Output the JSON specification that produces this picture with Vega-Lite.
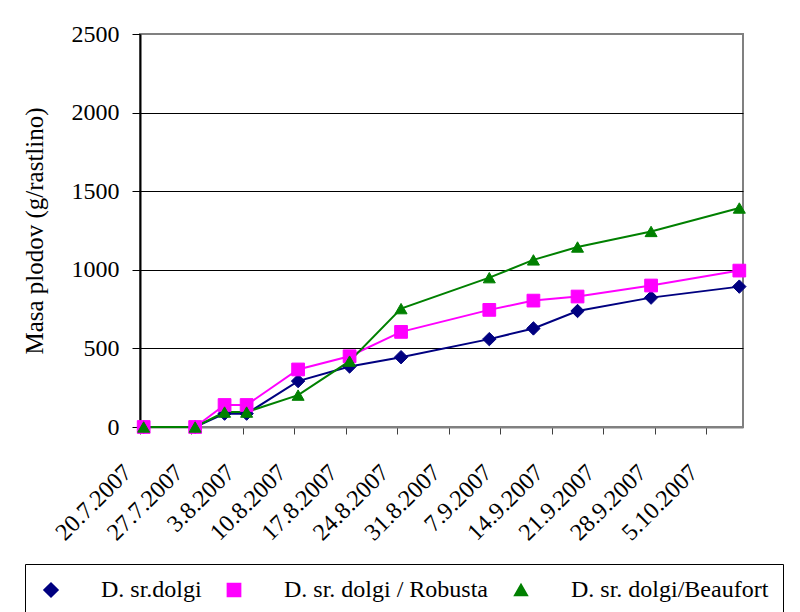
{
  "$schema": "https://vega.github.io/schema/vega-lite/v6.json",
  "autosize": {"type": "none"},
  "width": 603,
  "height": 393,
  "padding": {"left": 140, "top": 34, "right": 57, "bottom": 185},
  "background": "white",
  "config": {
    "font": "Liberation Serif",
    "view": {"stroke": "#808080", "strokeWidth": 2}
  },
  "data": {
    "values": [
      {"date": "2007-07-20T12:00:00", "series": "D. sr.dolgi", "value": 0},
      {"date": "2007-07-27T12:00:00", "series": "D. sr.dolgi", "value": 0},
      {"date": "2007-07-31T12:00:00", "series": "D. sr.dolgi", "value": 85},
      {"date": "2007-08-03T12:00:00", "series": "D. sr.dolgi", "value": 85},
      {"date": "2007-08-10T12:00:00", "series": "D. sr.dolgi", "value": 292},
      {"date": "2007-08-17T12:00:00", "series": "D. sr.dolgi", "value": 385},
      {"date": "2007-08-24T12:00:00", "series": "D. sr.dolgi", "value": 444},
      {"date": "2007-09-05T12:00:00", "series": "D. sr.dolgi", "value": 559},
      {"date": "2007-09-11T12:00:00", "series": "D. sr.dolgi", "value": 627},
      {"date": "2007-09-17T12:00:00", "series": "D. sr.dolgi", "value": 738},
      {"date": "2007-09-27T12:00:00", "series": "D. sr.dolgi", "value": 823},
      {"date": "2007-10-09T12:00:00", "series": "D. sr.dolgi", "value": 893},
      {"date": "2007-07-20T12:00:00", "series": "D. sr. dolgi / Robusta", "value": 0},
      {"date": "2007-07-27T12:00:00", "series": "D. sr. dolgi / Robusta", "value": 0},
      {"date": "2007-07-31T12:00:00", "series": "D. sr. dolgi / Robusta", "value": 140},
      {"date": "2007-08-03T12:00:00", "series": "D. sr. dolgi / Robusta", "value": 140},
      {"date": "2007-08-10T12:00:00", "series": "D. sr. dolgi / Robusta", "value": 366},
      {"date": "2007-08-17T12:00:00", "series": "D. sr. dolgi / Robusta", "value": 450},
      {"date": "2007-08-24T12:00:00", "series": "D. sr. dolgi / Robusta", "value": 605},
      {"date": "2007-09-05T12:00:00", "series": "D. sr. dolgi / Robusta", "value": 745},
      {"date": "2007-09-11T12:00:00", "series": "D. sr. dolgi / Robusta", "value": 804},
      {"date": "2007-09-17T12:00:00", "series": "D. sr. dolgi / Robusta", "value": 830},
      {"date": "2007-09-27T12:00:00", "series": "D. sr. dolgi / Robusta", "value": 900},
      {"date": "2007-10-09T12:00:00", "series": "D. sr. dolgi / Robusta", "value": 995},
      {"date": "2007-07-20T12:00:00", "series": "D. sr. dolgi/Beaufort", "value": 0},
      {"date": "2007-07-27T12:00:00", "series": "D. sr. dolgi/Beaufort", "value": 0},
      {"date": "2007-07-31T12:00:00", "series": "D. sr. dolgi/Beaufort", "value": 95},
      {"date": "2007-08-03T12:00:00", "series": "D. sr. dolgi/Beaufort", "value": 95},
      {"date": "2007-08-10T12:00:00", "series": "D. sr. dolgi/Beaufort", "value": 203},
      {"date": "2007-08-17T12:00:00", "series": "D. sr. dolgi/Beaufort", "value": 419},
      {"date": "2007-08-24T12:00:00", "series": "D. sr. dolgi/Beaufort", "value": 753},
      {"date": "2007-09-05T12:00:00", "series": "D. sr. dolgi/Beaufort", "value": 950},
      {"date": "2007-09-11T12:00:00", "series": "D. sr. dolgi/Beaufort", "value": 1063},
      {"date": "2007-09-17T12:00:00", "series": "D. sr. dolgi/Beaufort", "value": 1145},
      {"date": "2007-09-27T12:00:00", "series": "D. sr. dolgi/Beaufort", "value": 1244},
      {"date": "2007-10-09T12:00:00", "series": "D. sr. dolgi/Beaufort", "value": 1393}
    ]
  },
  "encoding": {
    "x": {
      "field": "date", "type": "temporal",
      "scale": {"domain": [{"year": 2007, "month": 7, "date": 20}, {"year": 2007, "month": 10, "date": 10}], "nice": false},
      "axis": {
        "title": null,
        "values": [
          {"year": 2007, "month": 7, "date": 20}, {"year": 2007, "month": 7, "date": 27},
          {"year": 2007, "month": 8, "date": 3}, {"year": 2007, "month": 8, "date": 10},
          {"year": 2007, "month": 8, "date": 17}, {"year": 2007, "month": 8, "date": 24},
          {"year": 2007, "month": 8, "date": 31}, {"year": 2007, "month": 9, "date": 7},
          {"year": 2007, "month": 9, "date": 14}, {"year": 2007, "month": 9, "date": 21},
          {"year": 2007, "month": 9, "date": 28}, {"year": 2007, "month": 10, "date": 5}
        ],
        "format": "%-d.%-m.%Y",
        "labelFont": "Liberation Serif",
        "labelColor": "black",
        "labelAngle": -45,
        "labelFontSize": 24,
        "labelPadding": 26,
        "labelOffset": -21,
        "tickSize": 7,
        "tickColor": "#404040",
        "domainColor": "#808080",
        "domainWidth": 2,
        "grid": false,
        "labelOverlap": false,
        "labelBound": false,
        "labelFlush": false
      }
    },
    "y": {
      "field": "value", "type": "quantitative",
      "scale": {"domain": [0, 2500], "nice": false},
      "axis": {
        "title": "Masa plodov (g/rastlino)",
        "titleFont": "Liberation Serif",
        "titleColor": "black",
        "titleFontSize": 25,
        "titleFontWeight": "normal",
        "titlePadding": 24,
        "values": [0, 500, 1000, 1500, 2000, 2500],
        "format": "d",
        "labelFont": "Liberation Serif",
        "labelColor": "black",
        "labelFontSize": 24,
        "labelPadding": 13,
        "tickSize": 8,
        "tickColor": "black",
        "domainColor": "black",
        "domainWidth": 2,
        "grid": true,
        "gridColor": {"condition": {"test": "datum.value == 0 || datum.value == 2500", "value": "#808080"}, "value": "black"},
        "gridOpacity": 1,
        "gridWidth": 1
      }
    },
    "color": {
      "field": "series", "type": "nominal",
      "scale": {
        "domain": ["D. sr.dolgi", "D. sr. dolgi / Robusta", "D. sr. dolgi/Beaufort"],
        "range": ["#000080", "#FF00FF", "#008000"]
      },
      "legend": {
        "orient": "none",
        "legendX": -115,
        "legendY": 530,
        "direction": "horizontal",
        "title": null,
        "symbolSize": 150,
        "symbolStrokeWidth": 2,
        "labelOffset": 38,
        "columnPadding": 20,
        "padding": 14,
        "strokeColor": "black",
        "fillColor": "white",
        "labelFont": "Liberation Serif",
        "labelFontSize": 24,
        "labelColor": "black",
        "labelLimit": 400
      }
    }
  },
  "layer": [
    {"mark": {"type": "line", "strokeWidth": 2}},
    {
      "mark": {"type": "point", "filled": true, "opacity": 1, "strokeWidth": 1},
      "encoding": {
        "shape": {
          "field": "series", "type": "nominal",
          "scale": {"domain": ["D. sr.dolgi", "D. sr. dolgi / Robusta", "D. sr. dolgi/Beaufort"], "range": ["diamond", "square", "triangle-up"]},
          "legend": null
        },
        "size": {
          "field": "series", "type": "nominal",
          "scale": {"domain": ["D. sr.dolgi", "D. sr. dolgi / Robusta", "D. sr. dolgi/Beaufort"], "range": [180, 144, 196]},
          "legend": null
        },
        "stroke": {"field": "series", "type": "nominal", "scale": {"domain": ["D. sr.dolgi", "D. sr. dolgi / Robusta", "D. sr. dolgi/Beaufort"], "range": ["#000080", "#FF00FF", "#008000"]}, "legend": null}
      }
    }
  ]
}
